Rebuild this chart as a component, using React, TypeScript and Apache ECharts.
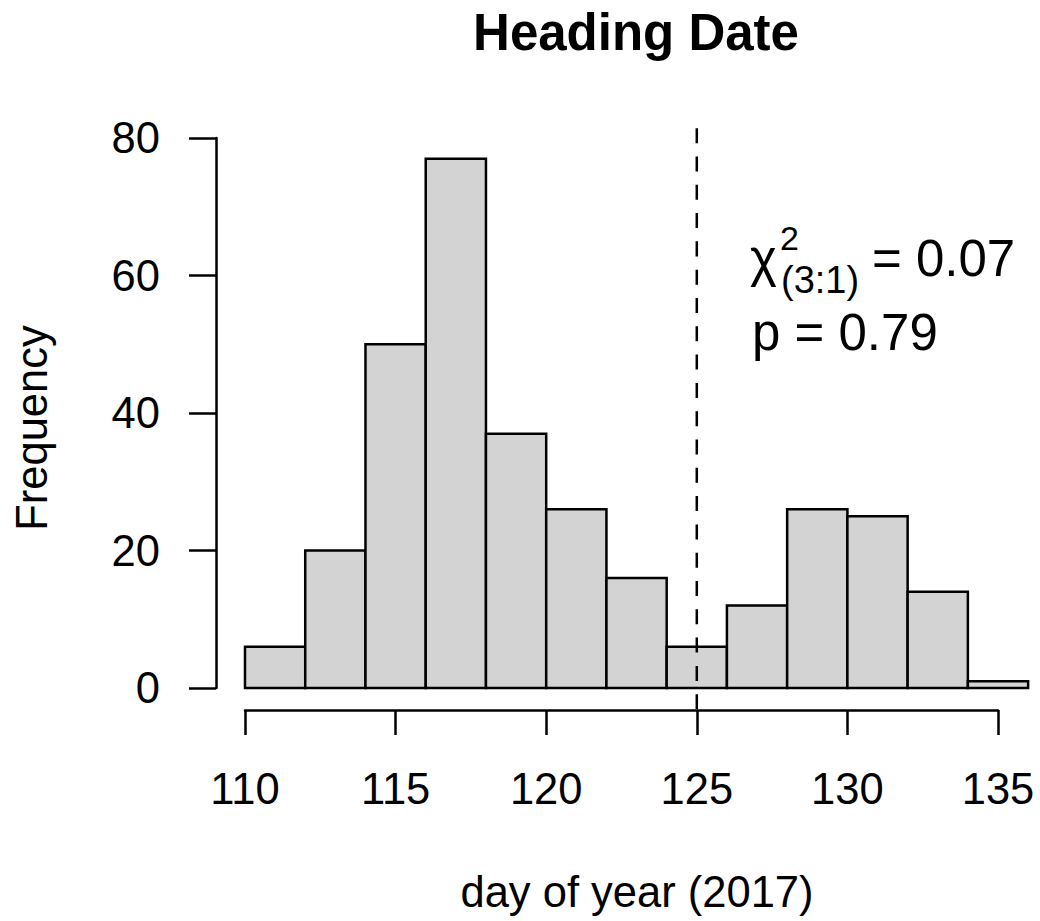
import React, { useEffect, useRef } from "react";
import * as echarts from "echarts";

// Histogram data
const binEdges = [110, 112, 114, 116, 118, 120, 122, 124, 126, 128, 130, 132, 134, 136];
const counts = [6, 20, 50, 77, 37, 26, 16, 6, 12, 26, 25, 14, 1];
const xTicks = { min: 110, max: 135, step: 5 };
const yTicks = { min: 0, max: 80, step: 20 };
const refLineX = 125;
const titleText = "Heading Date";
const xLabel = "day of year (2017)";
const yLabel = "Frequency";
const chiText = { sym: "χ", sup: "2", sub: "(3:1)", val: "= 0.07", p: "p = 0.79" };

const FONT = "'Liberation Sans', Arial, Helvetica, sans-serif";

export default function App() {
  const ref = useRef<HTMLDivElement>(null);
  useEffect(() => {
    if (!ref.current) return;
    const chart = echarts.init(ref.current, null, { renderer: "svg" });
    const yMaxData = Math.max(...counts);
    const ext = 0.04 * yMaxData;
    const lw = 2.5;
    const txt = (text: string, x: number, y: number, size: number, extra: any = {}) => ({
      type: "text",
      x,
      y,
      ...extra.el,
      style: {
        text,
        fontSize: size,
        fontFamily: extra.family || FONT,
        fontWeight: extra.weight || "normal",
        fill: "#000",
        align: extra.align || "left",
        textAlign: extra.align || "left",
        verticalAlign: "middle",
        textVerticalAlign: "middle",
      },
    });
    chart.setOption({
      animation: false,
      backgroundColor: "#fff",
      grid: { left: 245, top: 138, width: 753, height: 550, containLabel: false },
      xAxis: {
        type: "value",
        min: xTicks.min,
        max: xTicks.max,
        interval: xTicks.step,
        offset: 22,
        axisLine: { show: true, onZero: false, lineStyle: { color: "#000", width: lw } },
        axisTick: { show: true, length: 25, lineStyle: { color: "#000", width: lw } },
        axisLabel: { fontSize: 43.5, color: "#000", fontFamily: FONT, margin: 57 },
        splitLine: { show: false },
      },
      yAxis: {
        type: "value",
        min: yTicks.min,
        max: yTicks.max,
        interval: yTicks.step,
        offset: 29,
        axisLine: { show: true, onZero: false, lineStyle: { color: "#000", width: lw } },
        axisTick: { show: true, length: 27, lineStyle: { color: "#000", width: lw } },
        axisLabel: { fontSize: 43.5, color: "#000", fontFamily: FONT, margin: 56 },
        splitLine: { show: false },
      },
      series: [
        {
          type: "custom",
          clip: false,
          data: counts.map((c, i) => [binEdges[i], binEdges[i + 1], c]),
          encode: { x: [0, 1], y: 2 },
          renderItem: (params: any, api: any) => {
            const p0 = api.coord([api.value(0), api.value(2)]);
            const p1 = api.coord([api.value(1), 0]);
            return {
              type: "rect",
              shape: { x: p0[0], y: p0[1], width: p1[0] - p0[0], height: p1[1] - p0[1] },
              style: { fill: "#D3D3D3", stroke: "#000", lineWidth: lw },
            };
          },
        },
        {
          type: "line",
          clip: false,
          symbol: "none",
          silent: true,
          data: [
            [refLineX, -ext],
            [refLineX, yTicks.max + ext],
          ],
          lineStyle: { color: "#000", width: lw, type: [15, 13.3] },
        },
      ],
      graphic: [
        txt(titleText, 636, 32, 51, { align: "center", weight: "bold" }),
        txt(xLabel, 637, 892, 43.5, { align: "center" }),
        txt(yLabel, 32, 428, 43.5, { align: "center", el: { rotation: Math.PI / 2 } }),
        txt(chiText.sym, 750, 258, 51),
        txt(chiText.sup, 780, 238, 34),
        txt(chiText.sub, 781, 280, 38),
        txt(chiText.val, 872, 258, 51),
        txt(chiText.p, 752, 332, 51),
      ],
    });
    return () => chart.dispose();
  }, []);
  return (
    <div
      ref={ref}
      style={{ position: "absolute", left: 0, top: 0, width: 1040, height: 921, background: "#fff" }}
    />
  );
}
